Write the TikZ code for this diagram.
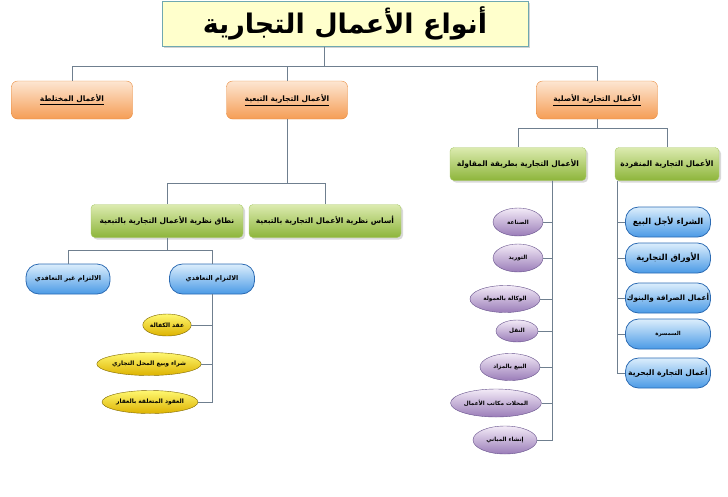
\documentclass[tikz,border=0pt]{standalone}
\usepackage{fontspec}
\newfontfamily\arabicfont[Script=Arabic]{DejaVu Sans}
\TeXXeTstate=1
\usetikzlibrary{shapes.geometric,shadows}
\newcommand{\ar}[1]{{\arabicfont\beginR #1\endR}}

\definecolor{linegray}{HTML}{6F7F8F}
\definecolor{titlefill}{HTML}{FFFFCC}
\definecolor{titleline}{HTML}{6FA8B0}
\definecolor{orangetop}{HTML}{FDE6D2}
\definecolor{orangebot}{HTML}{F59D55}
\definecolor{orangeline}{HTML}{E8893A}
\definecolor{greentop}{HTML}{DCEBB0}
\definecolor{greenbot}{HTML}{8DB53A}
\definecolor{greenline}{HTML}{A9C96A}
\definecolor{bluetop}{HTML}{DCEEFC}
\definecolor{bluebot}{HTML}{4A9AE6}
\definecolor{blueline}{HTML}{2C6BB3}
\definecolor{purpletop}{HTML}{F3EBF7}
\definecolor{purplebot}{HTML}{9A7CB8}
\definecolor{purpleline}{HTML}{65508A}
\definecolor{yellowtop}{HTML}{FFF870}
\definecolor{yellowbot}{HTML}{DDB200}
\definecolor{yellowline}{HTML}{7F6800}

\begin{document}
\begin{tikzpicture}[x=1pt, y=-1pt]
	\tikzstyle{every node} = [inner sep=0pt, align=center, font=\fontsize{7.5}{9}\selectfont\bfseries]
	\tikzstyle{link} = [draw=linegray, line width=0.9pt]
	\tikzstyle{titlebox} = [draw=titleline, fill=titlefill, line width=1pt, minimum width=366pt, minimum height=45pt, drop shadow={opacity=0.35}, font=\fontsize{27}{30}\selectfont\bfseries]
	\tikzstyle{orangebox} = [draw=orangeline, top color=orangetop, bottom color=orangebot, rounded corners=6pt, minimum width=121pt, minimum height=38pt]
	\tikzstyle{greenbox} = [draw=greenline, top color=greentop, bottom color=greenbot, rounded corners=4pt, minimum height=33pt, drop shadow={opacity=0.3, shadow xshift=2pt, shadow yshift=-2pt}]
	\tikzstyle{bluebox} = [draw=blueline, top color=bluetop, bottom color=bluebot, rounded corners=13pt, line width=0.8pt, minimum width=85pt, minimum height=30pt, font=\fontsize{8.3}{10}\selectfont\bfseries]
	\tikzstyle{purpleoval} = [ellipse, draw=purpleline, top color=purpletop, bottom color=purplebot, minimum height=28pt, font=\fontsize{5.7}{7}\selectfont\bfseries]
	\tikzstyle{yellowoval} = [ellipse, draw=yellowline, top color=yellowtop, bottom color=yellowbot, minimum height=23pt, font=\fontsize{6}{7}\selectfont\bfseries]
	\useasboundingbox (0,0) rectangle (728,496);
	% title and first level
	\node[titlebox] (Title) at (345,23.5) {\ar{أنواع الأعمال التجارية}};
	\node[orangebox] (Mixed) at (72,100) {\underline{\ar{الأعمال المختلطة}}};
	\node[orangebox] (Follow) at (287,100) {\underline{\ar{الأعمال التجارية التبعية}}};
	\node[orangebox] (Orig) at (597,100) {\underline{\ar{الأعمال التجارية الأصلية}}};
	\draw[link] ([xshift=-21pt]Title.south) -- ++(0,20) -| (Mixed.north);
	\draw[link] ([xshift=-21pt]Title.south) -- ++(0,20) -| (Follow.north);
	\draw[link] ([xshift=-21pt]Title.south) -- ++(0,20) -| (Orig.north);
	% original commercial acts
	\node[greenbox, minimum width=136pt] (Contract) at (518,164) {\ar{الأعمال التجارية بطريقة المقاولة}};
	\node[greenbox, minimum width=104pt] (Single) at (667,164) {\ar{الأعمال التجارية المنفردة}};
	\draw[link] (Orig.south) -- ++(0,9) -| (Contract.north);
	\draw[link] (Orig.south) -- ++(0,9) -| (Single.north);
	\node[bluebox] (Buy) at (668,222) {\ar{الشراء لأجل البيع}};
	\node[bluebox] (Papers) at (668,258) {\ar{الأوراق التجارية}};
	\node[bluebox, font=\fontsize{7.3}{9}\selectfont\bfseries] (Exchange) at (668,298) {\ar{أعمال الصرافة والبنوك}};
	\node[bluebox, font=\fontsize{5.5}{7}\selectfont\bfseries] (Brokerage) at (668,334) {\ar{السمسرة}};
	\node[bluebox, font=\fontsize{7.6}{9}\selectfont\bfseries] (Maritime) at (668,373) {\ar{أعمال التجارة البحرية}};
	\foreach \n in {Buy,Papers,Exchange,Brokerage,Maritime}
		\draw[link] ([xshift=3pt]Single.south west) |- (\n.west);
	\node[purpleoval, minimum width=50pt] (Industry) at (518,222) {\ar{الصناعة}};
	\node[purpleoval, minimum width=50pt] (Supply) at (518,258) {\ar{التوريد}};
	\node[purpleoval, minimum width=70pt, minimum height=27pt] (Agency) at (505,299) {\ar{الوكالة بالعمولة}};
	\node[purpleoval, minimum width=42pt, minimum height=22pt] (Transport) at (517,331) {\ar{النقل}};
	\node[purpleoval, minimum width=60pt, minimum height=27pt] (Auction) at (510,367) {\ar{البيع بالمزاد}};
	\node[purpleoval, minimum width=88pt] (Offices) at (496,403) {\ar{المحلات مكاتب الأعمال}};
	\node[purpleoval, minimum width=64pt] (Building) at (505,440) {\ar{إنشاء المباني}};
	\foreach \n in {Industry,Supply,Agency,Transport,Auction,Offices,Building}
		\draw[link] ([xshift=34pt]Contract.south) |- (\n.east);
	% accessory commercial acts
	\node[greenbox, minimum width=152pt] (Scope) at (167,221) {\ar{نطاق نظرية الأعمال التجارية بالتبعية}};
	\node[greenbox, minimum width=152pt] (Basis) at (325,221) {\ar{أساس نظرية الأعمال التجارية بالتبعية}};
	\draw[link] (Follow.south) -- ++(0,64) -| (Scope.north);
	\draw[link] (Follow.south) -- ++(0,64) -| (Basis.north);
	\node[bluebox, minimum width=84pt, font=\fontsize{6.5}{8}\selectfont\bfseries] (NonContract) at (68,279) {\ar{الالتزام غير التعاقدي}};
	\node[bluebox, font=\fontsize{6.5}{8}\selectfont\bfseries] (Contractual) at (212,279) {\ar{الالتزام التعاقدي}};
	\draw[link] (Scope.south) -- ++(0,13) -| (NonContract.north);
	\draw[link] (Scope.south) -- ++(0,13) -| (Contractual.north);
	\node[yellowoval, minimum width=48pt, minimum height=22pt] (Guarantee) at (167,325) {\ar{عقد الكفالة}};
	\node[yellowoval, minimum width=102pt] (ShopSale) at (149,364) {\ar{شراء وبيع المحل التجاري}};
	\node[yellowoval, minimum width=96pt] (RealEstate) at (150,402) {\ar{العقود المتعلقة بالعقار}};
	\foreach \n in {Guarantee,ShopSale,RealEstate}
		\draw[link] (Contractual.south) |- (\n.east);
\end{tikzpicture}
\end{document}
